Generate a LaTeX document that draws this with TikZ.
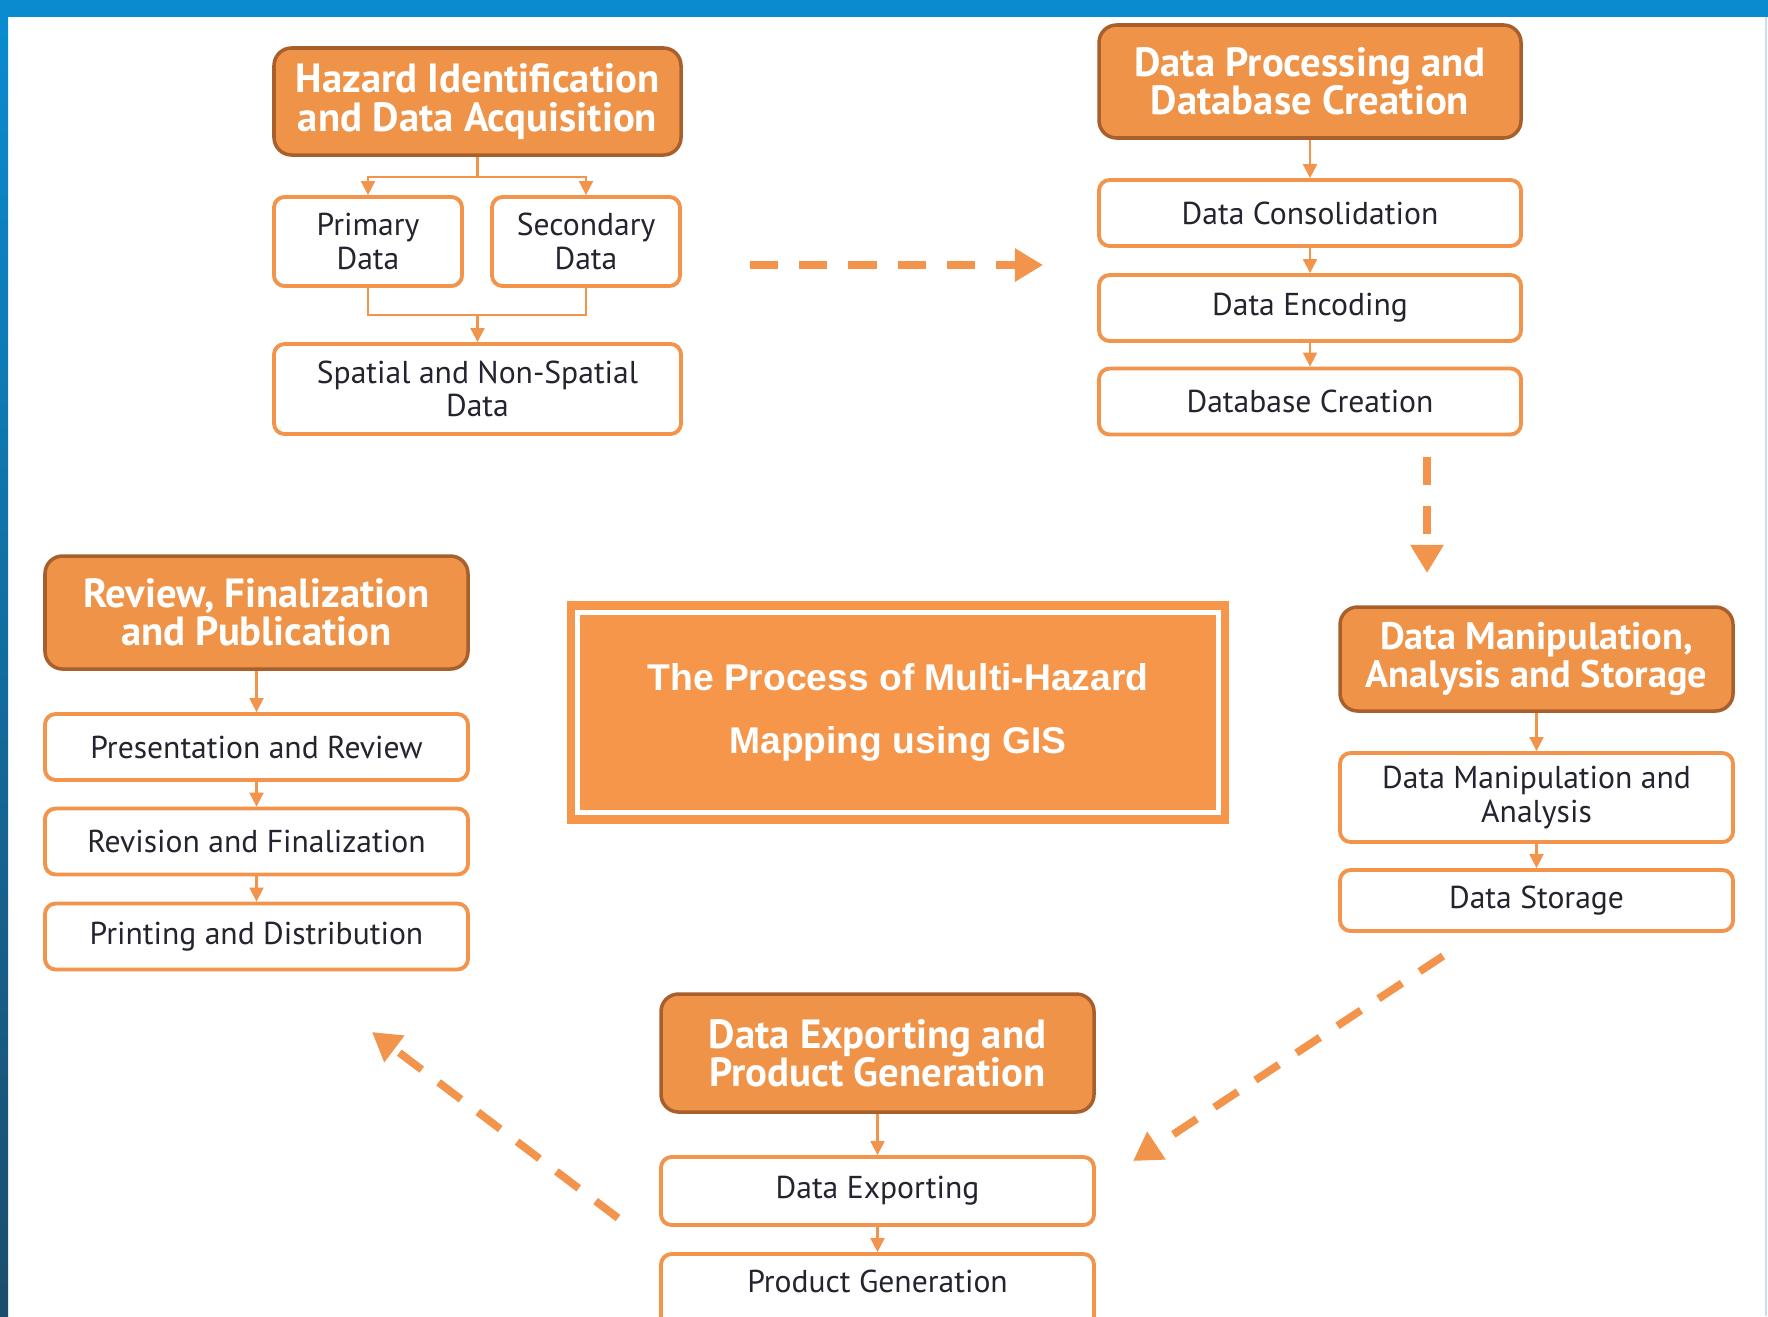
\documentclass[tikz,border=0pt]{standalone}
\usepackage{fontspec}
\setmainfont{PT Sans}
\newfontfamily\titlefont{Liberation Sans}
\usetikzlibrary{arrows.meta}

\definecolor{hzorange}{HTML}{EF9349}
\definecolor{hzbrown}{HTML}{A95F2C}
\definecolor{hzline}{HTML}{F2944C}
\definecolor{hzcore}{HTML}{F5964B}
\definecolor{hzblue}{HTML}{0A8BD0}
\definecolor{hzdeep}{HTML}{1B4D6C}
\definecolor{hztext}{HTML}{25232F}

\tikzset{
        phase/.style={draw=hzbrown, line width=1pt, fill=hzorange, rounded corners=5pt,
                text=white, font=\fontsize{11.6}{10.9}\selectfont\bfseries, align=center, inner sep=0pt},
        task/.style={draw=hzline, line width=1.1pt, fill=white, rounded corners=3pt,
                text=hztext, font=\fontsize{9}{9.6}\selectfont, align=center, inner sep=0pt},
        core/.style={fill=hzcore, text=white, align=center, inner sep=0pt,
                font=\titlefont\bfseries\fontsize{10.6}{18}\selectfont},
        link/.style={draw=hzline, line width=0.6pt, -{Triangle[width=4pt,length=4pt]}},
        flow/.style={draw=hzline, line width=2.2pt, dash pattern=on 8pt off 6pt,
                -{Triangle[width=9pt,length=8pt]}}
}

\begin{document}
\begin{tikzpicture}
        \useasboundingbox (0,0) rectangle (17.68,-13.16);
        \clip (0,0) rectangle (17.68,-13.16);
        \fill[white] (0,0) rectangle (17.68,-13.16);
        \fill[hzblue] (0,0) rectangle (17.68,-0.17);
        \shade[top color=hzblue, bottom color=hzdeep] (0,-0.17) rectangle (0.08,-13.16);
        \draw[hzblue!25, line width=0.6pt] (17.66,-0.17) -- (17.66,-13.16);

        \node[phase, minimum width=4.07cm, minimum height=1.07cm] (hz) at (4.775,-1.015) {Hazard Identification\\and Data Acquisition};
        \node[task, minimum width=1.88cm, minimum height=0.89cm] (prim) at (3.68,-2.415) {Primary\\Data};
        \node[task, minimum width=1.88cm, minimum height=0.89cm] (sec) at (5.86,-2.415) {Secondary\\Data};
        \node[task, minimum width=4.07cm, minimum height=0.90cm] (sp) at (4.775,-3.89) {Spatial and Non-Spatial\\Data};
        \coordinate (mrg) at (4.775,-3.15);
        \draw[link] (hz.south) -- ++(0,-0.2) -| (prim.north);
        \draw[link] (hz.south) -- ++(0,-0.2) -| (sec.north);
        \draw[draw=hzline, line width=0.6pt] (prim.south) |- (mrg) -| (sec.south);
        \draw[link] (mrg) -- (sp.north);

        \node[phase, minimum width=4.22cm, minimum height=1.13cm] (dp) at (13.10,-0.815) {Data Processing and\\Database Creation};
        \node[task, minimum width=4.22cm, minimum height=0.66cm] (cons) at (13.10,-2.13) {Data Consolidation};
        \node[task, minimum width=4.22cm, minimum height=0.66cm] (enc) at (13.10,-3.08) {Data Encoding};
        \node[task, minimum width=4.22cm, minimum height=0.66cm] (dbc) at (13.10,-4.015) {Database Creation};
        \draw[link] (dp) -- (cons);
        \draw[link] (cons) -- (enc);
        \draw[link] (enc) -- (dbc);

        \node[phase, minimum width=3.93cm, minimum height=1.04cm, font=\fontsize{10.9}{10.9}\selectfont\bfseries] (dm) at (15.365,-6.59) {Data Manipulation,\\Analysis and Storage};
        \node[task, minimum width=3.93cm, minimum height=0.89cm] (dma) at (15.365,-7.975) {Data Manipulation and\\Analysis};
        \node[task, minimum width=3.93cm, minimum height=0.61cm] (dst) at (15.365,-9.005) {Data Storage};
        \draw[link] (dm) -- (dma);
        \draw[link] (dma) -- (dst);

        \node[phase, minimum width=4.33cm, minimum height=1.18cm] (dx) at (8.775,-10.53) {Data Exporting and\\Product Generation};
        \node[task, minimum width=4.33cm, minimum height=0.68cm] (exp) at (8.775,-11.91) {Data Exporting};
        \node[task, minimum width=4.33cm, minimum height=0.86cm, text depth=0.32cm] (prod) at (8.775,-12.97) {Product Generation};
        \draw[link] (dx) -- (exp);
        \draw[link] (exp) -- (prod);

        \node[phase, minimum width=4.23cm, minimum height=1.13cm] (rv) at (2.565,-6.125) {Review, Finalization\\and Publication};
        \node[task, minimum width=4.23cm, minimum height=0.66cm] (pres) at (2.565,-7.47) {Presentation and Review};
        \node[task, minimum width=4.23cm, minimum height=0.66cm] (revi) at (2.565,-8.415) {Revision and Finalization};
        \node[task, minimum width=4.23cm, minimum height=0.66cm] (prt) at (2.565,-9.365) {Printing and Distribution};
        \draw[link] (rv) -- (pres);
        \draw[link] (pres) -- (revi);
        \draw[link] (revi) -- (prt);

        \node[core, minimum width=6.62cm, minimum height=2.23cm] (core) at (8.98,-7.125) {The Process of Multi-Hazard\\Mapping using GIS};
        \draw[white, line width=1.5pt] ([shift={(0.11,0.12)}]core.south west) rectangle ([shift={(-0.11,-0.12)}]core.north east);

        \coordinate (f1s) at (7.50,-2.65);
        \coordinate (f1e) at (10.43,-2.65);
        \coordinate (f2s) at (14.27,-4.57);
        \coordinate (f2e) at (14.27,-5.73);
        \coordinate (f3s) at (14.43,-9.56);
        \coordinate (f3e) at (11.33,-11.61);
        \coordinate (f4s) at (6.18,-12.18);
        \coordinate (f4e) at (3.72,-10.32);
        \draw[flow] (f1s) -- (f1e);
        \draw[flow] (f2s) -- (f2e);
        \draw[flow] (f3s) -- (f3e);
        \draw[flow] (f4s) -- (f4e);
\end{tikzpicture}
\end{document}
